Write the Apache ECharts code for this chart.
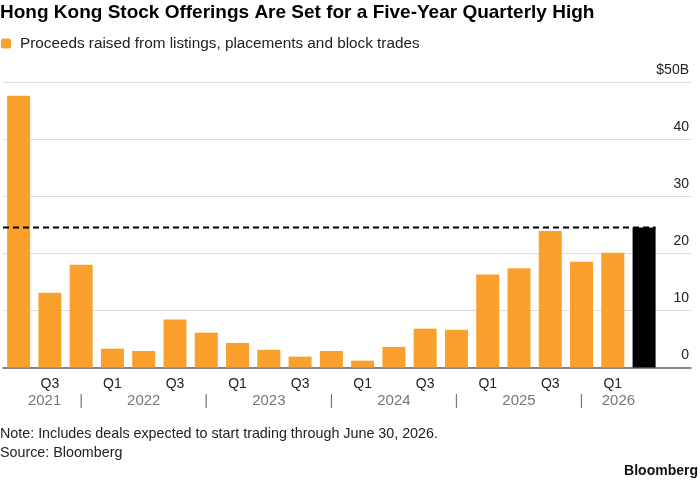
<!DOCTYPE html>
<html>
<head>
    <meta charset="utf-8">
    <title>Hong Kong Stock Offerings</title>
    <script src="https://cdn.jsdelivr.net/npm/echarts@6.0.0/dist/echarts.min.js"></script>
    <style>
        html, body { margin: 0; padding: 0; background: #fff; }
        #main { width: 700px; height: 483px; }
    </style>
</head>
<body>
<div id="main"></div>
<script>
// quarters, last slot left empty so the gridlines run on past the bars
var quarters = ['Q2 2021', 'Q3 2021', 'Q4 2021',
    'Q1 2022', 'Q2 2022', 'Q3 2022', 'Q4 2022',
    'Q1 2023', 'Q2 2023', 'Q3 2023', 'Q4 2023',
    'Q1 2024', 'Q2 2024', 'Q3 2024', 'Q4 2024',
    'Q1 2025', 'Q2 2025', 'Q3 2025', 'Q4 2025',
    'Q1 2026', 'Q2 2026', ''];
// proceeds, $B
var proceeds = [47.6, 13.1, 18.0,
    3.3, 2.9, 8.4, 6.1,
    4.3, 3.1, 1.9, 2.9,
    1.2, 3.6, 6.8, 6.6,
    16.3, 17.4, 23.9, 18.5,
    20.1, 24.5];
var yTicks = [0, 10, 20, 30, 40, 50];
// year labels and separators, placed in quarter index units
var yearLabels = ['2021', '2022', '2023', '2024', '2025', '2026'];
var yearLabelAt = [0.83, 4, 8, 12, 16, 19.18];
var yearSepAt = [2, 6, 10, 14, 18];

var font = 'Liberation Sans, Arial, sans-serif';
var last = proceeds.length - 1;
var high = proceeds[last];

var labelMap = {};
yearLabels.forEach(function (y, i) { labelMap[yearLabelAt[i]] = y; });
yearSepAt.forEach(function (s) { labelMap[s] = '|'; });

var barData = proceeds.map(function (v, i) {
    if (i === last) {
        return { value: v, itemStyle: { color: '#000' } };
    }
    return v;
});

function isLabelled(i, v) {
    return v.indexOf('Q1') === 0 || v.indexOf('Q3') === 0;
}

var chart = echarts.init(document.getElementById('main'));

option = {
    animation: false,
    textStyle: { fontFamily: font },
    title: {
        text: 'Hong Kong Stock Offerings Are Set for a Five-Year Quarterly High',
        left: 0,
        top: 3,
        padding: 0,
        textStyle: { fontSize: 19, fontWeight: 'bold', color: '#000', fontFamily: font }
    },
    legend: {
        left: 1,
        top: 36,
        padding: 0,
        itemWidth: 10,
        itemHeight: 10,
        icon: 'roundRect',
        textStyle: { fontSize: 15.3, color: '#222', padding: [0, 0, 0, 4], fontFamily: font },
        data: ['Proceeds raised from listings, placements and block trades']
    },
    grid: {
        left: 3,
        right: 9,
        top: 82,
        bottom: 115.5
    },
    xAxis: [{
        type: 'category',
        data: quarters,
        boundaryGap: true,
        axisLine: { lineStyle: { color: '#666', width: 1.5 } },
        axisTick: {
            alignWithLabel: true,
            length: 3,
            lineStyle: { color: '#555' },
            interval: function (i, v) { return v !== ''; }
        },
        axisLabel: { show: false }
    }, {
        type: 'category',
        data: quarters,
        position: 'bottom',
        boundaryGap: true,
        axisLine: { show: false },
        axisTick: {
            alignWithLabel: true,
            length: 5.5,
            lineStyle: { color: '#444' },
            interval: isLabelled
        },
        axisLabel: {
            interval: isLabelled,
            margin: 9.5,
            fontSize: 14,
            color: '#222',
            fontFamily: font,
            formatter: function (v) { return v.split(' ')[0]; }
        }
    }, {
        type: 'value',
        position: 'bottom',
        min: -0.5,
        max: quarters.length - 0.5,
        axisLine: { show: false },
        axisTick: { show: false },
        splitLine: { show: false },
        axisLabel: {
            customValues: yearLabelAt.concat(yearSepAt),
            margin: 26,
            fontSize: 15,
            color: '#777',
            fontFamily: font,
            formatter: function (v) { return labelMap[v] || ''; }
        }
    }],
    yAxis: {
        type: 'value',
        position: 'right',
        min: 0,
        max: 50,
        interval: 10,
        axisLine: { show: false },
        axisTick: { show: false },
        splitLine: { lineStyle: { color: '#ddd', width: 1 } },
        axisLabel: {
            inside: true,
            margin: 2,
            verticalAlign: 'bottom',
            padding: [0, 0, 5, 0],
            fontSize: 14,
            color: '#222',
            fontFamily: font,
            customValues: yTicks,
            formatter: function (v) { return v === 50 ? '$50B' : v; }
        }
    },
    series: [{
        name: 'Proceeds raised from listings, placements and block trades',
        type: 'bar',
        xAxisIndex: 0,
        barWidth: 23,
        itemStyle: { color: '#f9a12c' },
        data: barData
    }, {
        name: 'high',
        type: 'line',
        xAxisIndex: 2,
        symbol: 'none',
        silent: true,
        z: 5,
        lineStyle: { color: '#000', width: 2, type: [6, 4] },
        data: [[-0.5, high], [last + 0.37, high]]
    }],
    graphic: [{
        type: 'text',
        left: 0,
        top: 427,
        style: { text: 'Note: Includes deals expected to start trading through June 30, 2026.', font: '14.3px ' + font, fill: '#222' }
    }, {
        type: 'text',
        left: 0,
        top: 446,
        style: { text: 'Source: Bloomberg', font: '14.3px ' + font, fill: '#222' }
    }, {
        type: 'text',
        right: 2,
        top: 464,
        style: { text: 'Bloomberg', font: 'bold 14px ' + font, fill: '#111' }
    }]
};
chart.setOption(option);
</script>
</body>
</html>
